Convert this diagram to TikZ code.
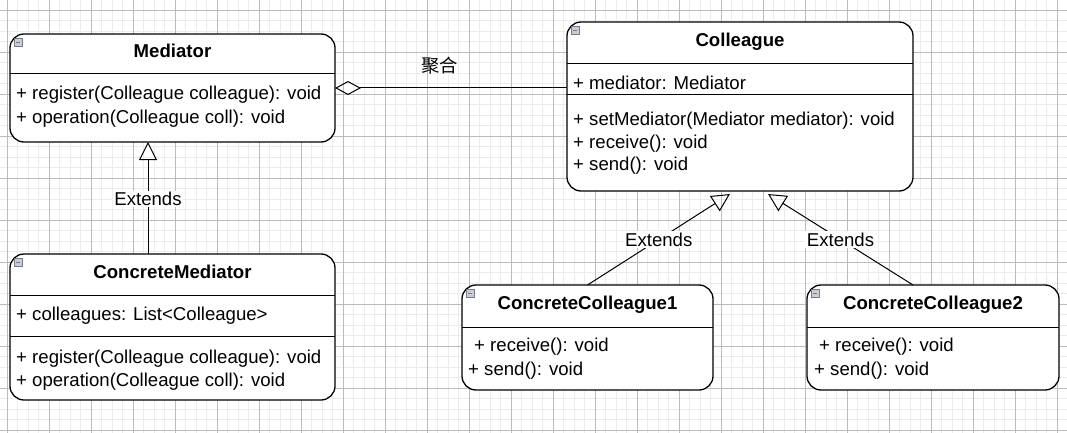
\documentclass[tikz,border=0pt]{standalone}
\usepackage{fontspec}
\setmainfont{Liberation Sans}
\newfontfamily\cjk{Noto Sans CJK SC}
\usetikzlibrary{arrows.meta}
\definecolor{gridminor}{RGB}{236,236,236}
\definecolor{gridmajor}{RGB}{188,188,188}
\definecolor{iconfill}{RGB}{200,204,214}
\definecolor{iconline}{RGB}{120,124,134}
\begin{document}
\begin{tikzpicture}[x=1pt,y=-1pt,
  umlbox/.style={draw=black, line width=1.3pt, fill=white, rounded corners=14pt, inner sep=0pt, outer sep=0pt},
  sepline/.style={draw=black, line width=1pt},
  member/.style={anchor=west, inner sep=0pt, yshift=-1.8pt, font=\fontsize{18.6}{22}\selectfont, text height=13.5pt, text depth=3.9pt},
  classname/.style={anchor=center, inner sep=0pt, yshift=-1.8pt, font=\bfseries\fontsize{18.6}{22}\selectfont, text height=13.5pt, text depth=3.9pt},
  edgelabel/.style={fill=white, inner sep=1.5pt, font=\fontsize{18.6}{22}\selectfont},
  extends/.style={draw=black, line width=1pt, -{Triangle[open, length=18pt, width=18pt]}},
  aggregation/.style={draw=black, line width=1pt, -{Diamond[open, length=26pt, width=14pt]}},
  icon/.style={draw=iconline, fill=iconfill, line width=0.5pt},
  minorline/.style={draw=gridminor, line width=0.8pt},
  majorline/.style={draw=gridmajor, line width=0.8pt},
]
\fill[white] (0,0) rectangle (1067,433);
\useasboundingbox (0,0) rectangle (1067,433);
% grid
\foreach \k in {-1,...,100} \draw[minorline] ({7+10.5*\k},0) -- ({7+10.5*\k},433);
\foreach \k in {-1,...,40} \draw[minorline] (0,{10.3+10.5*\k}) -- (1067,{10.3+10.5*\k});
\foreach \k in {0,...,25} \draw[majorline] ({7+42*\k},0) -- ({7+42*\k},433);
\foreach \k in {0,...,10} \draw[majorline] (0,{10.3+42*\k}) -- (1067,{10.3+42*\k});

% boxes
\node[umlbox, minimum width=325pt, minimum height=108pt] (med) at (172.5,88) {};
\node[umlbox, minimum width=346pt, minimum height=169pt] (coll) at (740,106.5) {};
\node[umlbox, minimum width=325pt, minimum height=146pt] (cm) at (172.5,327) {};
\node[umlbox, minimum width=251pt, minimum height=105pt] (cc1) at (587.5,337.5) {};
\node[umlbox, minimum width=252pt, minimum height=105pt] (cc2) at (933,337.5) {};

% separators
\draw[sepline] (10,74) -- (335,74);
\draw[sepline] (567,64) -- (913,64);
\draw[sepline] (567,95) -- (913,95);
\draw[sepline] (10,295) -- (335,295);
\draw[sepline] (10,336) -- (335,336);
\draw[sepline] (462,327) -- (713,327);
\draw[sepline] (807,327) -- (1059,327);

% collapse icons
\foreach \x/\y in {14/38, 571/26, 14/258, 466/289, 811/289} {
  \draw[icon] (\x,\y) rectangle ++(8,8);
  \draw[draw=iconline, line width=0.8pt] ({\x+2},{\y+4}) -- ({\x+6},{\y+4});
}

% texts
\node[classname] (medT) at (172.5,51) {Mediator};
\node[member] (med1) at (16,93) {+ register(Colleague colleague): void};
\node[member] (med2) at (16,117) {+ operation(Colleague coll): void};

\node[classname] (collT) at (740,40) {Colleague};
\node[member] (coll1) at (573,83) {+ mediator: Mediator};
\node[member] (coll2) at (573,119) {+ setMediator(Mediator mediator): void};
\node[member] (coll3) at (573,142) {+ receive(): void};
\node[member] (coll4) at (573,164) {+ send(): void};

\node[classname] (cmT) at (172.5,272) {ConcreteMediator};
\node[member] (cm1) at (16,314) {+ colleagues: List<Colleague>};
\node[member] (cm2) at (16,357) {+ register(Colleague colleague): void};
\node[member] (cm3) at (16,380) {+ operation(Colleague coll): void};

\node[classname] (cc1T) at (587.5,303) {ConcreteColleague1};
\node[member] (cc1a) at (474,345) {+ receive(): void};
\node[member] (cc1b) at (468,369) {+ send(): void};

\node[classname] (cc2T) at (933,303) {ConcreteColleague2};
\node[member] (cc2a) at (819,345) {+ receive(): void};
\node[member] (cc2b) at (814,369) {+ send(): void};

% connectors
\draw[extends] ([xshift=-24.5pt]cm.north) -- node[edgelabel, yshift=-1pt]{Extends} ([xshift=-24.5pt]med.south);
\draw[extends] (cc1.north) -- node[edgelabel]{Extends} ([xshift=-10pt,yshift=-3pt]coll.south);
\draw[extends] ([xshift=-20pt]cc2.north) -- node[edgelabel]{Extends} ([xshift=28pt,yshift=-3pt]coll.south);
\draw[aggregation] (coll.west |- med.east) -- node[pos=0.55, above=13pt, inner sep=0pt, font=\cjk\fontsize{18.3}{22}\selectfont]{聚合} (med.east);
\end{tikzpicture}
\end{document}
